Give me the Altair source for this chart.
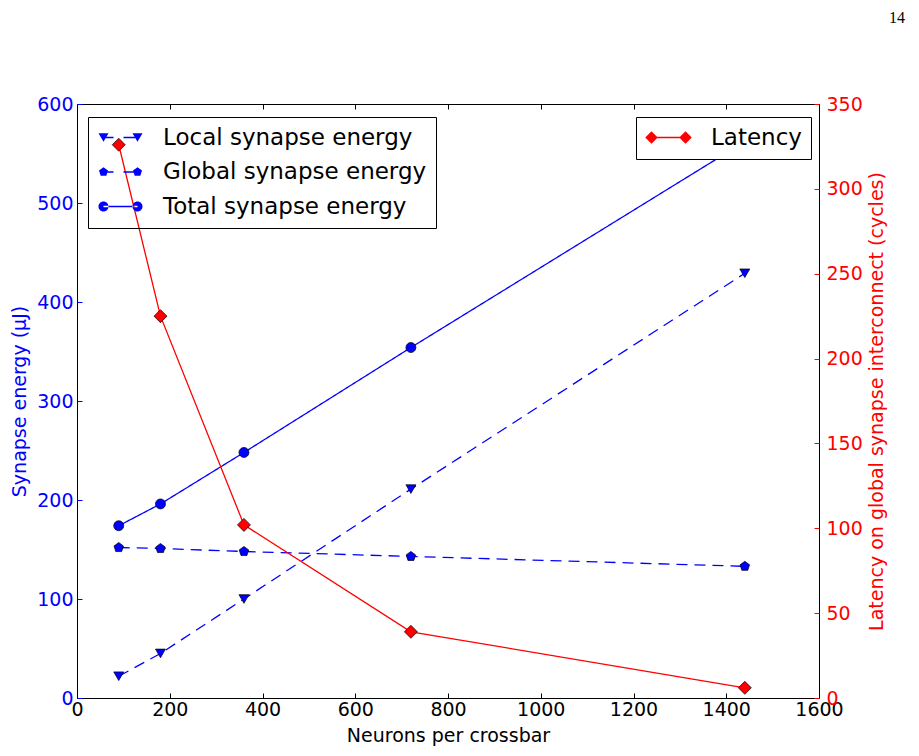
import altair as alt
import pandas as pd

# ---------------- data ----------------
neurons = [90, 180, 360, 720, 1440]
local_energy = [22, 45, 100, 211, 429]
global_energy = [152, 151, 148, 143, 133]
total_energy = [174, 196, 248, 354, 562]
latency_cycles = [326, 225, 102, 39, 6]

series_names = ["Local synapse energy", "Global synapse energy", "Total synapse energy"]
latency_name = "Latency"

x_ticks = [0, 200, 400, 600, 800, 1000, 1200, 1400, 1600]
energy_ticks = [0, 100, 200, 300, 400, 500, 600]
latency_ticks = [0, 50, 100, 150, 200, 250, 300, 350]

BLUE = "#0000ff"
RED = "#ff0000"
FONT = "DejaVu Sans"

rows = []
for name, vals in zip(series_names, [local_energy, global_energy, total_energy]):
    for n, v in zip(neurons, vals):
        rows.append({"neurons": n, "energy": v, "series": name})
energy_df = pd.DataFrame(rows)
lat_df = pd.DataFrame({"neurons": neurons, "latency": latency_cycles, "name": latency_name})

PENT = "M0,-1 L0.951,-0.309 L0.588,0.809 L-0.588,0.809 L-0.951,-0.309 Z"
point_shapes = ["triangle-down", PENT, "circle"]


# ---------- legend symbol paths (marker - line - marker) ----------
def f(v):
    return f"{v:.3f}"


def seg(x0, x1, hw=0.13):
    return f"M{f(x0)},{f(-hw)} L{f(x1)},{f(-hw)} L{f(x1)},{f(hw)} L{f(x0)},{f(hw)} Z "


def tri(cx, r=1.0):
    h = 0.866 * r
    return f"M{f(cx - r)},{f(-h)} L{f(cx + r)},{f(-h)} L{f(cx)},{f(h)} Z "


def pent(cx, r=0.95):
    pts = [(0, -1), (0.951, -0.309), (0.588, 0.809), (-0.588, 0.809), (-0.951, -0.309)]
    return "M" + " L".join(f"{f(cx + r * a)},{f(r * b)}" for a, b in pts) + " Z "


def circ(cx, r=1.0):
    return (f"M{f(cx - r)},0 A{f(r)},{f(r)} 0 1,0 {f(cx + r)},0 "
            f"A{f(r)},{f(r)} 0 1,0 {f(cx - r)},0 Z ")


def diam(cx, r=1.25):
    return f"M{f(cx - r)},0 L{f(cx)},{f(-r)} L{f(cx + r)},0 L{f(cx)},{f(r)} Z "


L, R = -1.0, 5.8
leg_paths = [
    seg(L, L + 2.0) + seg(R - 2.8, R) + tri(L) + tri(R),
    seg(L, L + 2.0) + seg(R - 2.8, R) + pent(L) + pent(R),
    seg(L, R) + circ(L) + circ(R),
]
leg_lat = seg(L, R) + diam(L) + diam(R)

xscale = alt.Scale(domain=[0, 1600], nice=False)
escale = alt.Scale(domain=[0, 600], nice=False)
lscale = alt.Scale(domain=[0, 350], nice=False)

x_bottom = alt.X(
    "neurons:Q", scale=xscale,
    axis=alt.Axis(values=x_ticks, format="d", title="Neurons per crossbar", orient="bottom",
                  offset=-5, tickSize=5, domain=False, labelPadding=2, titlePadding=7,
                  labelFlush=False, labelOverlap=False, tickColor="black",
                  labelColor="black", titleColor="black"),
)
x_top = alt.X(
    "neurons:Q", scale=xscale,
    axis=alt.Axis(values=x_ticks, orient="top", offset=-5, tickSize=5, domain=False,
                  labels=False, title=None, tickColor="black"),
)

energy_y = alt.Y(
    "energy:Q", scale=escale,
    axis=alt.Axis(values=energy_ticks, format="d", title="Synapse energy (μJ)", orient="left",
                  offset=-5, tickSize=5, domain=False, labelPadding=4, titlePadding=7,
                  tickColor=BLUE, labelColor=BLUE, titleColor=BLUE, labelOverlap=False),
)

lat_y = alt.Y(
    "latency:Q", scale=lscale,
    axis=alt.Axis(values=latency_ticks, format="d", orient="right",
                  title="Latency on global synapse interconnect (cycles)",
                  offset=-5, tickSize=5, domain=False, labelPadding=7, titlePadding=5,
                  titleAngle=270, titleBaseline="top",
                  tickColor=RED, labelColor=RED, titleColor=RED, labelOverlap=False),
)

energy_lines = alt.Chart(energy_df).mark_line(color=BLUE, strokeWidth=1.3).encode(
    x=x_bottom,
    y=energy_y,
    strokeDash=alt.StrokeDash(
        "series:N",
        scale=alt.Scale(domain=series_names, range=[[11, 7], [11, 7], [1, 0]]),
        legend=None,
    ),
)

energy_point_layers = [
    alt.Chart(energy_df).transform_filter(alt.FieldEqualPredicate(field="series", equal=name))
    .mark_point(shape=shp, filled=True, fill=BLUE, stroke="black", strokeWidth=0.7,
                opacity=1, size=100)
    .encode(x=x_bottom, y=energy_y)
    for name, shp in zip(series_names, point_shapes)
]

energy_legend = alt.Chart(energy_df).mark_point(
    filled=True, fill=BLUE, stroke=BLUE, strokeWidth=0, opacity=0, size=100
).encode(
    x=x_bottom,
    y=energy_y,
    shape=alt.Shape(
        "series:N",
        scale=alt.Scale(domain=series_names, range=leg_paths),
        legend=alt.Legend(
            title=None, orient="none", legendX=11, legendY=13,
            padding=9, rowPadding=10.5, labelFontSize=23, labelFont=FONT,
            labelColor="black", labelOffset=43, labelLimit=500, symbolSize=100,
            symbolOpacity=1, symbolFillColor=BLUE, symbolStrokeColor=BLUE,
            symbolStrokeWidth=0, strokeColor="black",
        ),
    ),
)

energy = alt.layer(energy_lines, *energy_point_layers, energy_legend)

lat_line = alt.Chart(lat_df).mark_line(color=RED, strokeWidth=1.3).encode(
    x=x_top, y=lat_y,
)
lat_points = alt.Chart(lat_df).mark_point(
    shape="diamond", filled=True, fill=RED, stroke="black", strokeWidth=0.7,
    opacity=1, size=169,
).encode(x=x_top, y=lat_y)

lat_legend = alt.Chart(lat_df).mark_point(
    filled=True, fill=RED, stroke=RED, strokeWidth=0, opacity=0, size=100
).encode(
    x=x_top,
    y=lat_y,
    shape=alt.Shape(
        "name:N",
        scale=alt.Scale(domain=[latency_name], range=[leg_lat]),
        legend=alt.Legend(
            title=None, orient="none", legendX=559, legendY=13,
            padding=9, labelFontSize=23, labelFont=FONT, labelColor="black",
            labelOffset=43, labelLimit=500, symbolSize=100,
            symbolOpacity=1, symbolFillColor=RED, symbolStrokeColor=RED,
            symbolStrokeWidth=0, strokeColor="black", fillColor="white",
        ),
    ),
)
latency = alt.layer(lat_line, lat_points, lat_legend)

chart = (
    alt.layer(energy, latency)
    .resolve_scale(y="independent", shape="independent")
    .resolve_legend(shape="independent")
    .properties(
        width=742,
        height=594,
        autosize=alt.AutoSizeParams(type="none"),
        padding={"left": 69, "top": 96, "right": 92, "bottom": 50},
        title=alt.TitleParams(
            text="14", anchor="end", frame="group", dx=86, offset=69,
            font="Liberation Serif", fontSize=16, fontWeight="normal", color="black",
        ),
    )
    .configure_view(stroke="black", strokeWidth=1)
    .configure_axis(
        grid=False, labelFont=FONT, titleFont=FONT, labelFontSize=19, titleFontSize=19,
        titleFontWeight="normal", tickWidth=1,
    )
)

chart.save("out.html", embed_options={"renderer": "svg", "actions": False})
